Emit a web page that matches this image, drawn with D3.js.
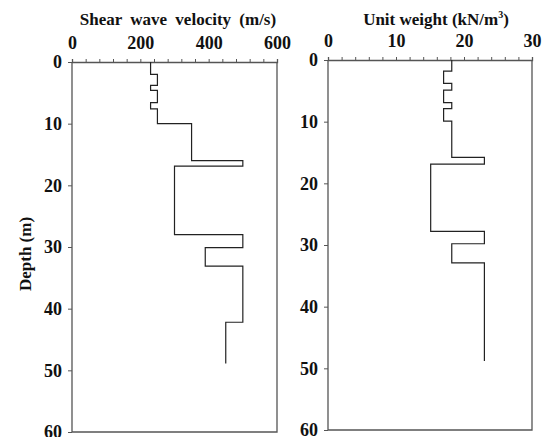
<!DOCTYPE html>
<html><head><meta charset="utf-8">
<script src="https://cdn.jsdelivr.net/npm/d3@7"></script>
<style>body{margin:0;background:#fff}svg{display:block}text{font-family:"Liberation Serif","DejaVu Serif",serif;font-weight:bold;fill:#111}</style>
</head><body><svg id="c" width="544" height="437"></svg>
<script>
// Shear wave velocity profile (step): layer tops/bottoms (m) and values (m/s)
const vsDepths = [0, 2, 3.8, 4.6, 6.6, 7.6, 10, 16, 16.9, 28, 30.1, 33.1, 42.2, 48.9];
const vsValues = [230, 250, 230, 250, 230, 250, 350, 500, 300, 500, 390, 500, 450];
// Unit weight profile (step): depths (m) and values (kN/m3)
const uwDepths = [0, 1.8, 3.8, 4.9, 6.9, 7.9, 9.9, 15.8, 16.9, 27.8, 29.8, 32.9, 48.8];
const uwValues = [18.2, 17, 18.2, 17, 18.2, 17, 18.2, 23, 15.1, 23, 18.2, 23];
const depthTicks = [0, 10, 20, 30, 40, 50, 60];
const vsTicks = [0, 200, 400, 600];
const uwTicks = [0, 10, 20, 30];

const svg = d3.select("#c");

function stepPoints(depths, values) {
  const pts = [];
  values.forEach((v, i) => { pts.push([v, depths[i]]); pts.push([v, depths[i + 1]]); });
  return pts;
}

function styleText(s) {
  s.selectAll("text").attr("font-size", 18).attr("font-family", "Liberation Serif")
    .attr("font-weight", "bold").attr("fill", "#111");
}

function panel(o) {
  const x = d3.scaleLinear().domain(o.xDomain).range([o.x0, o.x1]);
  const y = d3.scaleLinear().domain([0, 60]).range([o.y0, o.y1]);
  const g = svg.append("g");
  const frame = "#555";
  g.append("path").attr("d", `M${o.x0},${o.y0}V${o.y1}H${o.x1}V${o.y0}`)
    .attr("fill", "none").attr("stroke", frame).attr("stroke-width", 1.3);
  const top = g.append("g").attr("transform", `translate(0,${o.y0})`)
    .call(d3.axisTop(x).tickValues(d3.range(o.xDomain[0], o.xDomain[1] + 1e-9, o.minor)).tickSize(3).tickFormat(""));
  top.select(".domain").attr("stroke", frame).attr("stroke-width", 1.3);
  top.selectAll(".tick line").attr("stroke", frame);
  g.append("g").attr("transform", `translate(0,${o.y0})`)
    .call(d3.axisTop(x).tickValues(o.ticks).tickSize(0).tickPadding(13).tickFormat(d3.format("d")))
    .call(s => { s.select(".domain").remove(); styleText(s); });
  const left = g.append("g").attr("transform", `translate(${o.x0},0)`)
    .call(d3.axisLeft(y).tickValues(depthTicks).tickSize(4).tickPadding(6).tickFormat(d3.format("d")));
  left.select(".domain").remove();
  left.selectAll(".tick line").attr("stroke", frame);
  styleText(left);
  const line = d3.line().x(d => x(d[0])).y(d => y(d[1]));
  g.append("path").attr("d", line(stepPoints(o.depths, o.values)))
    .attr("fill", "none").attr("stroke", "#222").attr("stroke-width", 1.2);
  const t = g.append("text").attr("x", o.tx).attr("y", 25).attr("text-anchor", "middle").attr("font-size", 17);
  o.title(t);
}

panel({
  x0: 72, x1: 277, y0: 62, y1: 432, xDomain: [0, 600], minor: 40, ticks: vsTicks,
  depths: vsDepths, values: vsValues, tx: 178,
  title: t => t.attr("word-spacing", 4).text("Shear wave velocity (m/s)")
});
panel({
  x0: 328, x1: 532, y0: 60, y1: 430, xDomain: [0, 30], minor: 2, ticks: uwTicks,
  depths: uwDepths, values: uwValues, tx: 436,
  title: t => { t.text("Unit weight (kN/m"); t.append("tspan").attr("dy", -7).attr("font-size", 10).text("3"); t.append("tspan").attr("dy", 7).text(")"); }
});

svg.append("text").attr("transform", "translate(31,254) rotate(-90)")
  .attr("text-anchor", "middle").attr("font-size", 17).text("Depth (m)");
</script></body></html>
